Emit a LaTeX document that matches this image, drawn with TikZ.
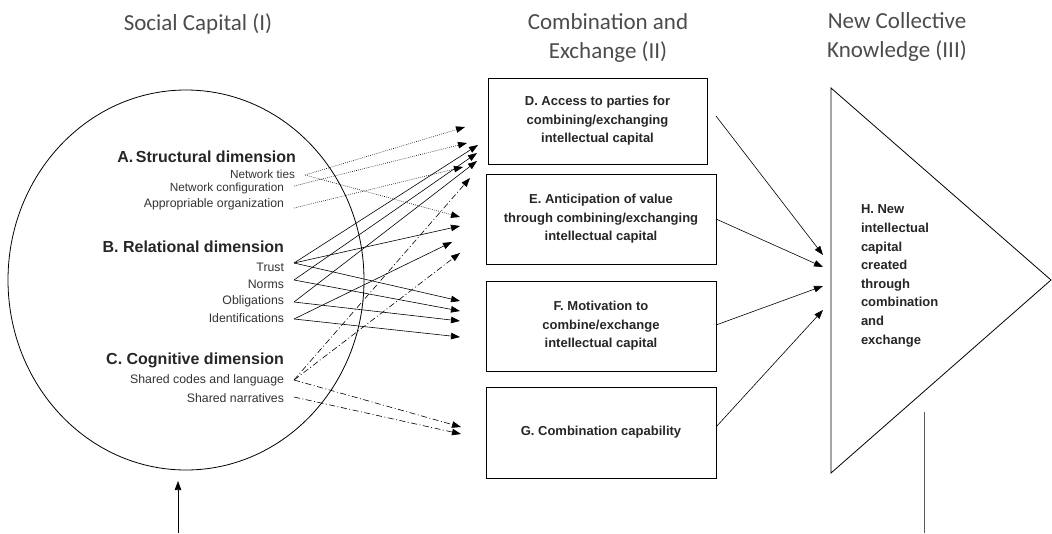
\documentclass[tikz,border=0pt]{standalone}
\usepackage{fontspec}
\setmainfont{Liberation Sans}
\newfontfamily\titlefont{Carlito}
\usetikzlibrary{arrows.meta,shapes.geometric}
\begin{document}
\begin{tikzpicture}[x=1pt,y=-1pt,
  every node/.style={inner sep=0pt, outer sep=0pt},
  title/.style={font=\titlefont\fontsize{23}{28.5}\selectfont, text=black!70, align=center},
  dimlabel/.style={font=\bfseries\fontsize{16}{18}\selectfont, text=black!85, anchor=east},
  item/.style={font=\fontsize{12.3}{14}\selectfont, text=black!80, anchor=east},
  stage/.style={draw, line width=0.8pt, font=\bfseries\fontsize{13}{18.5}\selectfont, text=black!85, align=center},
  link/.style={line width=0.6pt, -{Triangle[length=9pt,width=6.5pt]}},
  dotlink/.style={link, dash pattern=on 0.7pt off 1.3pt},
  dashdotlink/.style={link, dash pattern=on 6pt off 2.5pt on 1pt off 2.5pt},
]
\useasboundingbox (0,0) rectangle (1052,533);

% column headings
\node[title] (t1) at (198,24) {Social Capital (I)};
\node[title] (t2) at (608,38) {Combination and\\Exchange (II)};
\node[title] (t3) at (897,37) {New Collective\\Knowledge (III)};

% social capital circle
\node[draw, ellipse, line width=0.8pt, minimum width=356pt, minimum height=380pt] (sc) at (186,280) {};

\node[dimlabel] (dimA) at (296,157) {A.\,Structural dimension};
\node[item, font=\fontsize{11.8}{13}\selectfont] (ties) at (295,174.5) {Network ties};
\node[item, font=\fontsize{11.8}{13}\selectfont] (config) at (284,188) {Network configuration};
\node[item] (approp) at (284,204) {Appropriable organization};

\node[dimlabel] (dimB) at (284,247) {B. Relational dimension};
\node[item] (trust) at (284,267) {Trust};
\node[item] (norms) at (284,284) {Norms};
\node[item] (oblig) at (284,301) {Obligations};
\node[item] (ident) at (284,318) {Identifications};

\node[dimlabel] (dimC) at (284,360) {C. Cognitive dimension};
\node[item] (codes) at (284,380) {Shared codes and language};
\node[item] (narr) at (284,398) {Shared narratives};

% combination and exchange boxes
\node[stage, minimum width=219pt, minimum height=86pt] (D) at (597.5,121)
  {D. Access to parties for\\combining/exchanging\\intellectual capital};
\node[stage, minimum width=230pt, minimum height=90pt] (E) at (601,219)
  {E. Anticipation of value\\through combining/exchanging\\intellectual capital};
\node[stage, minimum width=230pt, minimum height=90pt] (F) at (601,326)
  {F. Motivation to\\combine/exchange\\intellectual capital};
\node[stage, minimum width=230pt, minimum height=91pt] (G) at (601,432.5)
  {G. Combination capability};

% new collective knowledge
\draw[line width=0.8pt] (831,88) -- (1051,280) -- (831,473) -- cycle;
\node[anchor=north west, align=left, font=\bfseries\fontsize{13}{18.6}\selectfont, text=black!85] (H) at (861,205)
  {H. New\\intellectual\\capital\\created\\through\\combination\\and\\exchange};

% line starts beside the labels
\coordinate (sTies) at (305,175);
\coordinate (sConfig) at (294,186);
\coordinate (sApprop) at (294,208);
\coordinate (sTrust) at (294,263);
\coordinate (sNorms) at (294,280);
\coordinate (sOblig) at (294,302);
\coordinate (sIdent) at (294,319);
\coordinate (sCodes) at (294,380);
\coordinate (sNarr) at (294,397);

% arrow tips in front of the boxes
\coordinate (d1) at (465,127);
\coordinate (d2) at (467,143);
\coordinate (d3) at (478,145);
\coordinate (d4) at (477,153);
\coordinate (d5) at (477,161);
\coordinate (d6) at (463,167);
\coordinate (d7) at (470,178);
\coordinate (e1) at (460,217);
\coordinate (e2) at (460,226);
\coordinate (e3) at (452,242);
\coordinate (e4) at (460,253);
\coordinate (f1) at (460,301);
\coordinate (f2) at (460,311);
\coordinate (f3) at (460,321);
\coordinate (f4) at (460,337);
\coordinate (g1) at (461,427);
\coordinate (g2) at (461,434);

% structural links
\draw[dotlink] (sTies) -- (d1);
\draw[dotlink] (sTies) -- (e1);
\draw[dotlink] (sConfig) -- (d2);
\draw[dotlink] (sApprop) -- (d6);

% relational links
\draw[link] (sTrust) -- (d3);
\draw[link] (sTrust) -- (e2);
\draw[link] (sTrust) -- (f1);
\draw[link] (sNorms) -- (d4);
\draw[link] (sNorms) -- (f2);
\draw[link] (sOblig) -- (d5);
\draw[link] (sOblig) -- (f3);
\draw[link] (sIdent) -- (e3);
\draw[link] (sIdent) -- (f4);

% cognitive links
\draw[dashdotlink] (sCodes) -- (d7);
\draw[dashdotlink] (sCodes) -- (e4);
\draw[dashdotlink] (sCodes) -- (g1);
\draw[dashdotlink] (sNarr) -- (g2);

% boxes into new knowledge
\coordinate (h1) at (823,255);
\coordinate (h2) at (823,267);
\coordinate (h3) at (823,286);
\coordinate (h4) at (823,310);
\coordinate (oD) at (716,116);
\coordinate (oE) at (716,219);
\coordinate (oF) at (716,325);
\coordinate (oG) at (716,427);
\draw[link] (oD) -- (h1);
\draw[link] (oE) -- (h2);
\draw[link] (oF) -- (h3);
\draw[link] (oG) -- (h4);

% feedback stubs at the bottom
\coordinate (inBase) at (178,533);
\coordinate (inTip) at (178,481);
\draw[link] (inBase) -- (inTip);
\coordinate (outTop) at (924,412);
\coordinate (outBase) at (924,533);
\draw[line width=0.8pt, black!65] (outTop) -- (outBase);
\end{tikzpicture}
\end{document}
